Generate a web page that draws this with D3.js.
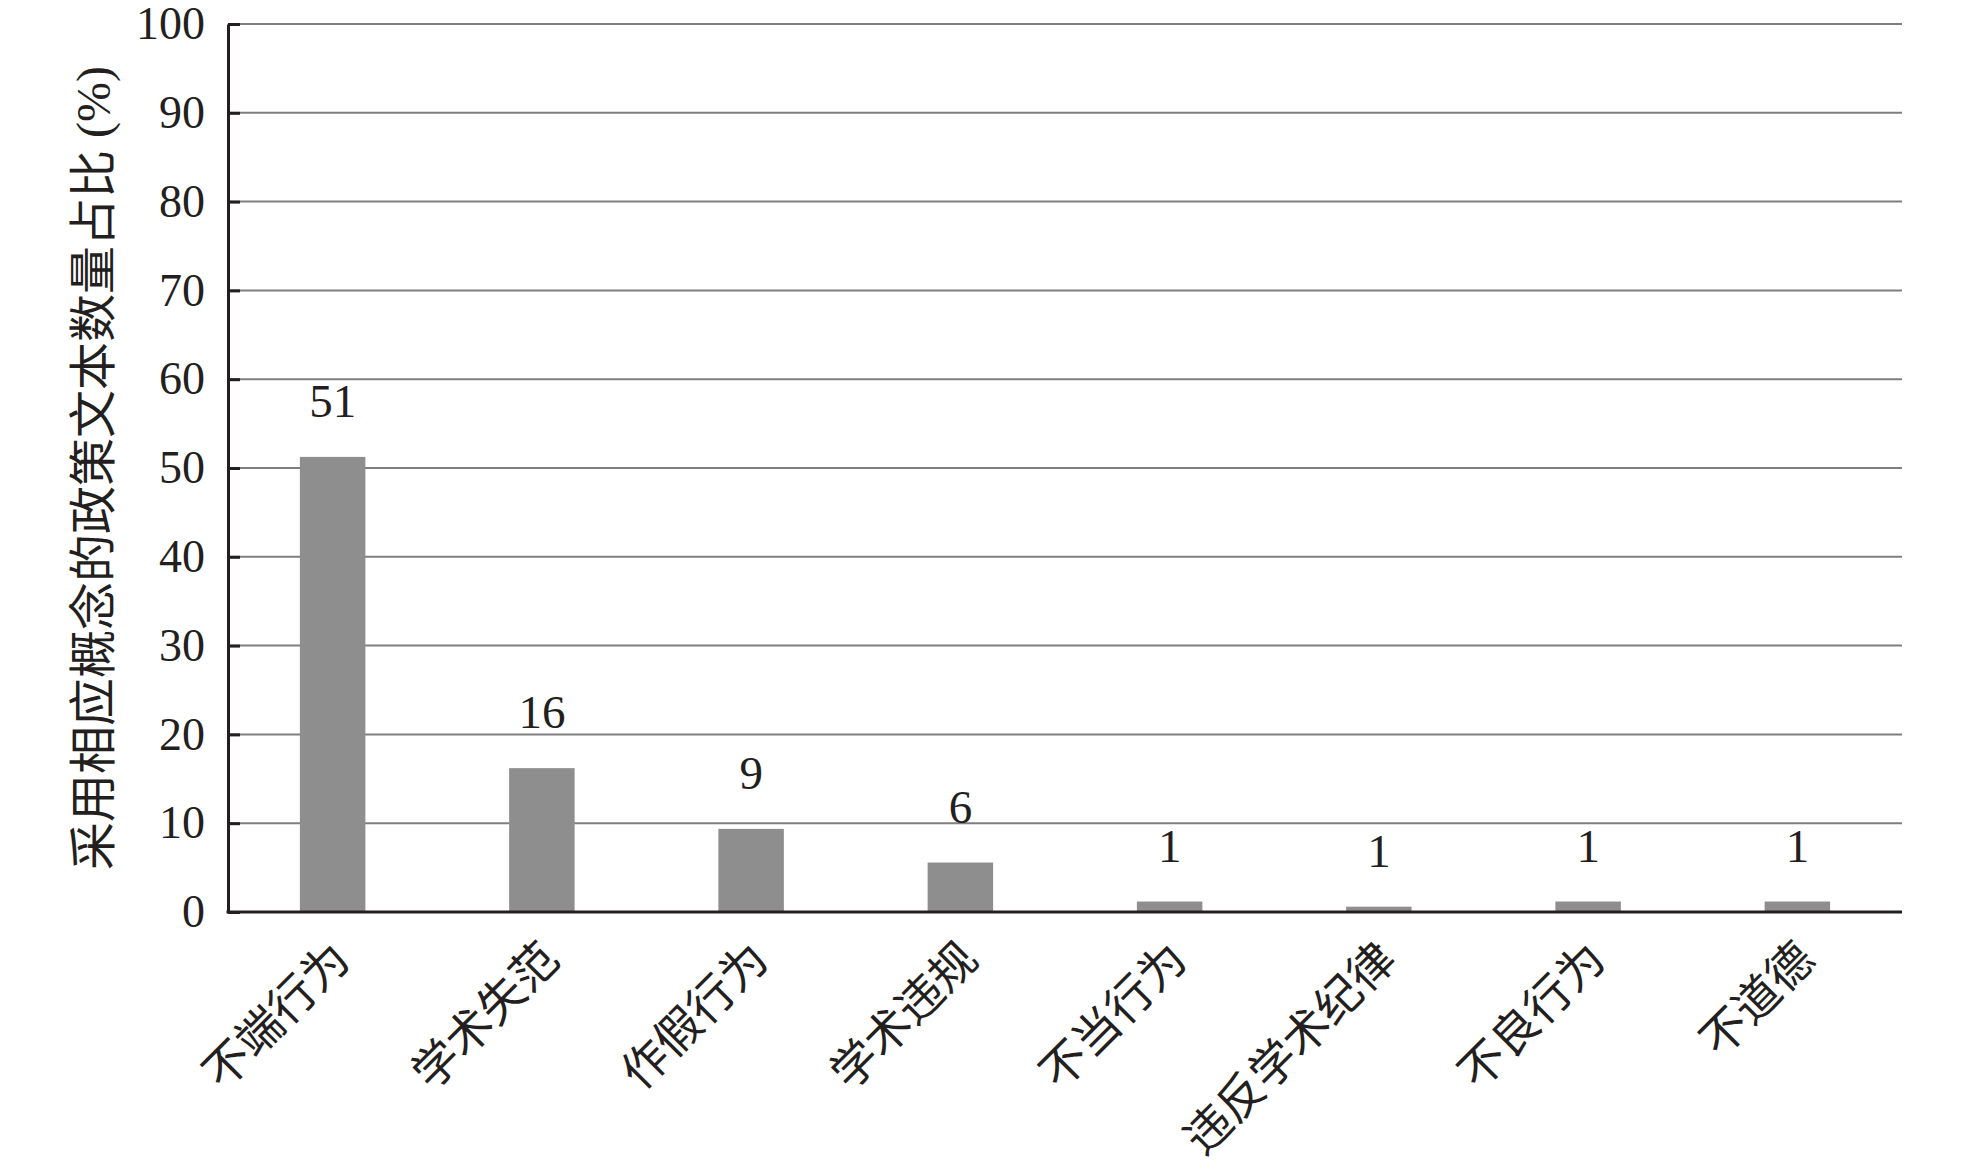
<!DOCTYPE html>
<html>
<head>
<meta charset="utf-8">
<script src="https://cdn.jsdelivr.net/npm/d3@7"></script>
<style>
  html, body { margin: 0; padding: 0; background: #ffffff; }
  svg { display: block; }
</style>
</head>
<body>
<svg id="chart" width="1969" height="1173"></svg>
<script>
const categories = ["不端行为", "学术失范", "作假行为", "学术违规", "不当行为", "违反学术纪律", "不良行为", "不道德"];
const values = [51.25, 16.2, 9.36, 5.57, 1.18, 0.6, 1.18, 1.18];
const valueLabels = ["51", "16", "9", "6", "1", "1", "1", "1"];
const yTicks = [0, 10, 20, 30, 40, 50, 60, 70, 80, 90, 100];
const yTitle = "采用相应概念的政策文本数量占比 (%)";

const svg = d3.select("#chart");
const margin = { left: 228, right: 1902, top: 24, bottom: 912 };
const fontFamily = "'Liberation Serif', 'Times New Roman', 'Noto Sans CJK SC', serif";
const ink = "#231f20";

const x = d3.scaleBand()
  .domain(categories)
  .range([margin.left, margin.right])
  .paddingInner(0.687)
  .paddingOuter(0.3435);

const y = d3.scaleLinear()
  .domain([0, 100])
  .range([margin.bottom, margin.top]);

// gridlines
svg.append("g")
  .selectAll("line")
  .data(yTicks.filter(d => d > 0))
  .join("line")
  .attr("x1", margin.left)
  .attr("x2", margin.right)
  .attr("y1", d => y(d))
  .attr("y2", d => y(d))
  .attr("stroke", "#7f7f7f")
  .attr("stroke-width", 2);

// bars
svg.append("g")
  .selectAll("rect")
  .data(categories)
  .join("rect")
  .attr("x", d => x(d))
  .attr("width", x.bandwidth())
  .attr("y", (d, i) => y(values[i]))
  .attr("height", (d, i) => y(0) - y(values[i]))
  .attr("fill", "#8f8e8f");

// value labels
svg.append("g")
  .selectAll("text")
  .data(categories)
  .join("text")
  .attr("x", d => x(d) + x.bandwidth() / 2)
  .attr("y", (d, i) => y(values[i]) - 40)
  .attr("text-anchor", "middle")
  .attr("font-family", fontFamily)
  .attr("font-size", 47)
  .attr("fill", ink)
  .text((d, i) => valueLabels[i]);

// y axis
const yAxis = d3.axisLeft(y)
  .tickValues(yTicks)
  .tickSize(-12)
  .tickPadding(23)
  .tickSizeOuter(0);

const yg = svg.append("g")
  .attr("transform", `translate(${margin.left},0)`)
  .call(yAxis);
yg.select(".domain").attr("stroke", ink).attr("stroke-width", 3);
yg.selectAll(".tick line").attr("stroke", ink).attr("stroke-width", 3);
yg.selectAll(".tick text")
  .attr("font-family", fontFamily)
  .attr("font-size", 46)
  .attr("fill", ink);

// x axis
const xAxis = d3.axisBottom(x).tickSize(0).tickSizeOuter(0).tickPadding(0);
const xg = svg.append("g")
  .attr("transform", `translate(0,${margin.bottom})`)
  .call(xAxis);
xg.select(".domain").attr("stroke", ink).attr("stroke-width", 3)
  .attr("d", `M${margin.left - 1.5},0H${margin.right}`);
xg.selectAll(".tick text")
  .attr("font-family", "'Noto Sans CJK SC', sans-serif")
  .attr("font-size", 46)
  .attr("fill", ink)
  .attr("text-anchor", "end")
  .attr("dy", null)
  .attr("y", null)
  .attr("transform", "translate(20,50) rotate(-45)");

// y title
svg.append("text")
  .attr("transform", `translate(93,468) rotate(-90)`)
  .attr("text-anchor", "middle")
  .attr("dy", "0.36em")
  .attr("font-family", fontFamily)
  .attr("font-size", 48)
  .attr("fill", ink)
  .text(yTitle);
</script>
</body>
</html>
